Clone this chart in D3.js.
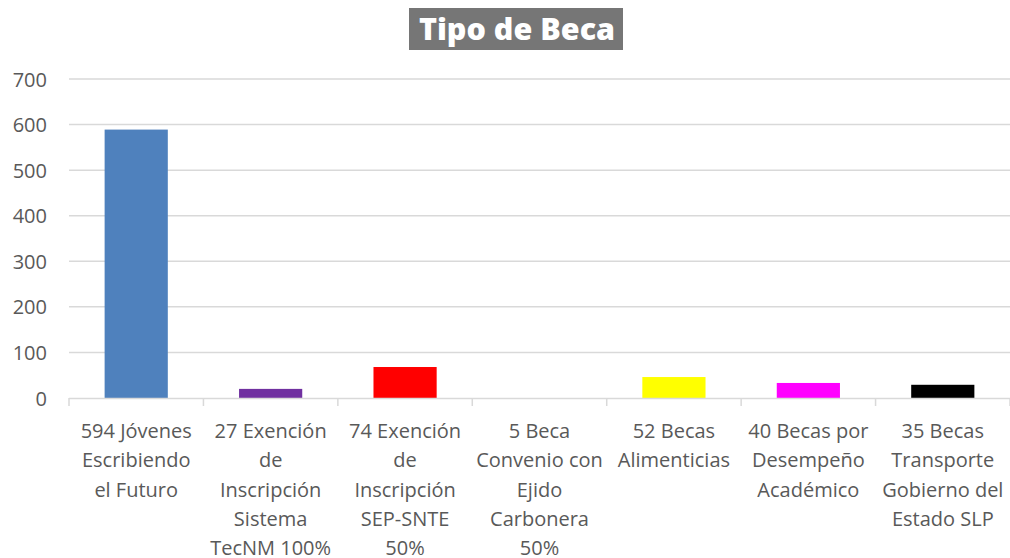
<!DOCTYPE html>
<head>
  <meta charset="utf-8">
  <script src="https://d3js.org/d3.v7.min.js"></script>
  <style>
    body { margin: 0; background: #fff; }
    svg { display: block; }
    .tick text { font-family: "Open Sans"; fill: #595959; }
  </style>
</head>
<body>
  <svg width="1010" height="558"></svg>
  <script>
    // data
    var categories = [
      ['594 Jóvenes', 'Escribiendo', 'el Futuro'],
      ['27 Exención', 'de', 'Inscripción', 'Sistema', 'TecNM 100%'],
      ['74 Exención', 'de', 'Inscripción', 'SEP-SNTE', '50%'],
      ['5 Beca', 'Convenio con', 'Ejido', 'Carbonera', '50%'],
      ['52 Becas', 'Alimenticias'],
      ['40 Becas por', 'Desempeño', 'Académico'],
      ['35 Becas', 'Transporte', 'Gobierno del', 'Estado SLP']
    ];
    var values = [589, 20, 68, 0, 46, 33, 29];
    var colors = ['#4F81BD', '#7030A0', '#FF0000', '#4F81BD', '#FFFF00', '#FF00FF', '#000000'];
    var yTicks = [0, 100, 200, 300, 400, 500, 600, 700];

    var svg = d3.select('svg');
    var mLeft = 69, mRight = 1010, mTop = 79, mBottom = 398;

    var x = d3.scaleBand()
      .domain(d3.range(categories.length))
      .range([mLeft, mRight])
      .paddingInner(0.53).paddingOuter(0.265);
    var xb = d3.scaleBand().domain(d3.range(categories.length)).range([mLeft, mRight]);
    var y = d3.scaleLinear().domain([0, 700]).range([mBottom, mTop]);

    // gridlines
    svg.append('g').selectAll('line')
      .data(yTicks.filter(function(d) { return d > 0; })).enter().append('line')
      .attr('x1', mLeft).attr('x2', mRight)
      .attr('y1', function(d) { return y(d); }).attr('y2', function(d) { return y(d); })
      .attr('stroke', '#d9d9d9').attr('stroke-width', 1.5);

    // y axis labels
    var yAxis = svg.append('g')
      .attr('transform', 'translate(' + 47 + ',0)')
      .call(d3.axisLeft(y).tickValues(yTicks).tickSize(0).tickPadding(0));
    yAxis.select('.domain').remove();
    yAxis.selectAll('text').style('font-size', '20px').attr('dy', '0.35em');

    // bars
    svg.append('g').selectAll('rect')
      .data(values).enter().append('rect')
      .attr('x', function(d, i) { return x(i); })
      .attr('width', x.bandwidth())
      .attr('y', function(d) { return y(d); })
      .attr('height', function(d) { return mBottom - y(d); })
      .attr('fill', function(d, i) { return colors[i]; });

    // baseline + category ticks
    svg.append('line')
      .attr('x1', mLeft).attr('x2', mRight).attr('y1', mBottom + 0.5).attr('y2', mBottom + 0.5)
      .attr('stroke', '#d9d9d9').attr('stroke-width', 1.5);
    svg.append('g').selectAll('line')
      .data(d3.range(categories.length + 1)).enter().append('line')
      .attr('x1', function(d) { return mLeft + d * xb.bandwidth(); })
      .attr('x2', function(d) { return mLeft + d * xb.bandwidth(); })
      .attr('y1', mBottom).attr('y2', mBottom + 8)
      .attr('stroke', '#d9d9d9').attr('stroke-width', 1.5);

    // category labels
    var labels = svg.append('g').selectAll('text')
      .data(categories).enter().append('text')
      .attr('text-anchor', 'middle')
      .style('font-family', 'Open Sans').style('font-size', '20px').attr('fill', '#595959');
    labels.selectAll('tspan')
      .data(function(d, i) { return d.map(function(s) { return { s: s, i: i }; }); })
      .enter().append('tspan')
      .attr('x', function(d) { return xb(d.i) + xb.bandwidth() / 2; })
      .attr('y', function(d, j) { return 438 + j * 29.3; })
      .text(function(d) { return d.s; });

    // title
    var title = svg.append('g');
    title.append('rect')
      .attr('x', 409).attr('y', 8).attr('width', 214).attr('height', 42)
      .attr('fill', '#767676');
    title.append('text')
      .attr('x', 517).attr('y', 40)
      .attr('text-anchor', 'middle')
      .style('font-family', 'Open Sans').style('font-weight', 800).style('font-size', '30.5px')
      .attr('fill', '#fff')
      .text('Tipo de Beca');
  </script>
</body>
